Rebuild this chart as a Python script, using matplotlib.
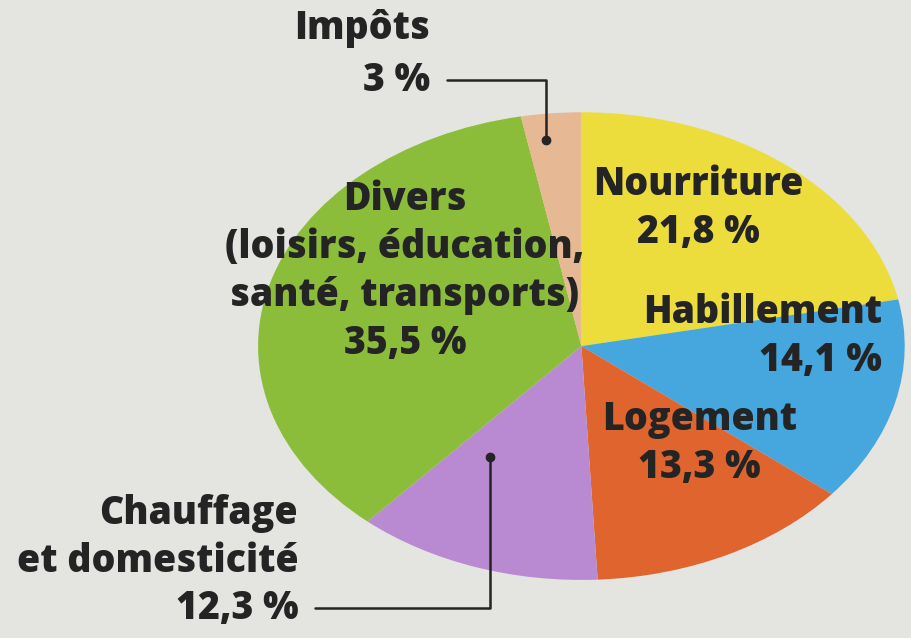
import matplotlib.pyplot as plt

categories = ['Nourriture', 'Habillement', 'Logement',
              'Chauffage\net domesticité', 'Divers\n(loisirs, éducation,\nsanté, transports)', 'Impôts']
shares = [21.8, 14.1, 13.3, 12.3, 35.5, 3.0]
share_labels = ['21,8 %', '14,1 %', '13,3 %', '12,3 %', '35,5 %', '3 %']
colors = ['#ecdd3c', '#46a6de', '#e0642e', '#b98ad2', '#8bbd3a', '#e6b893']

bg = '#e4e4e0'
ink = '#242424'

plt.rcParams['font.family'] = ['Open Sans', 'DejaVu Sans']

fig = plt.figure(figsize=(9.12, 6.38), dpi=100, facecolor=bg)
ax = fig.add_axes([0.283, 0.091, 0.709, 0.733])
ax.set_facecolor(bg)

ax.pie(shares, colors=colors, startangle=90, counterclock=False,
       radius=1, wedgeprops={'linewidth': 0})
ax.set_aspect('auto')
ax.set_xlim(-1, 1)
ax.set_ylim(-1, 1)
ax.axis('off')

txt = dict(color=ink, fontweight=800, fontsize=27, linespacing=1.3,
           va='center', clip_on=False)

# labels inside the slices
ax.text(0.363, 0.59, categories[0] + '\n' + share_labels[0], ha='center', **txt)
ax.text(0.929, 0.043, categories[1] + '\n' + share_labels[1], ha='right', multialignment='right', **txt)
ax.text(0.366, -0.415, categories[2] + '\n' + share_labels[2], ha='center', **txt)
ax.text(-0.546, 0.32, categories[4] + '\n' + share_labels[4], ha='center', **txt)

# labels outside with leader lines from the percentage line
lead = dict(arrowstyle='-', color=ink, lw=1.8, shrinkA=10, shrinkB=0,
            connectionstyle='angle,angleA=0,angleB=90,rad=0')

ax.text(-0.468, 1.359, categories[5], ha='right', **txt)
ax.annotate(share_labels[5], xy=(-0.11, 0.88), xytext=(-0.468, 1.137),
            ha='right', arrowprops=lead, annotation_clip=False, **txt)
ax.plot(-0.11, 0.88, 'o', color=ink, ms=6, clip_on=False)

ax.text(-0.876, -0.82, categories[3], ha='right', multialignment='right', **txt)
ax.annotate(share_labels[3], xy=(-0.283, -0.474), xytext=(-0.876, -1.12),
            ha='right', arrowprops=lead, annotation_clip=False, **txt)
ax.plot(-0.283, -0.474, 'o', color=ink, ms=6, clip_on=False)

fig.savefig('out.png', dpi=100, facecolor=bg)
